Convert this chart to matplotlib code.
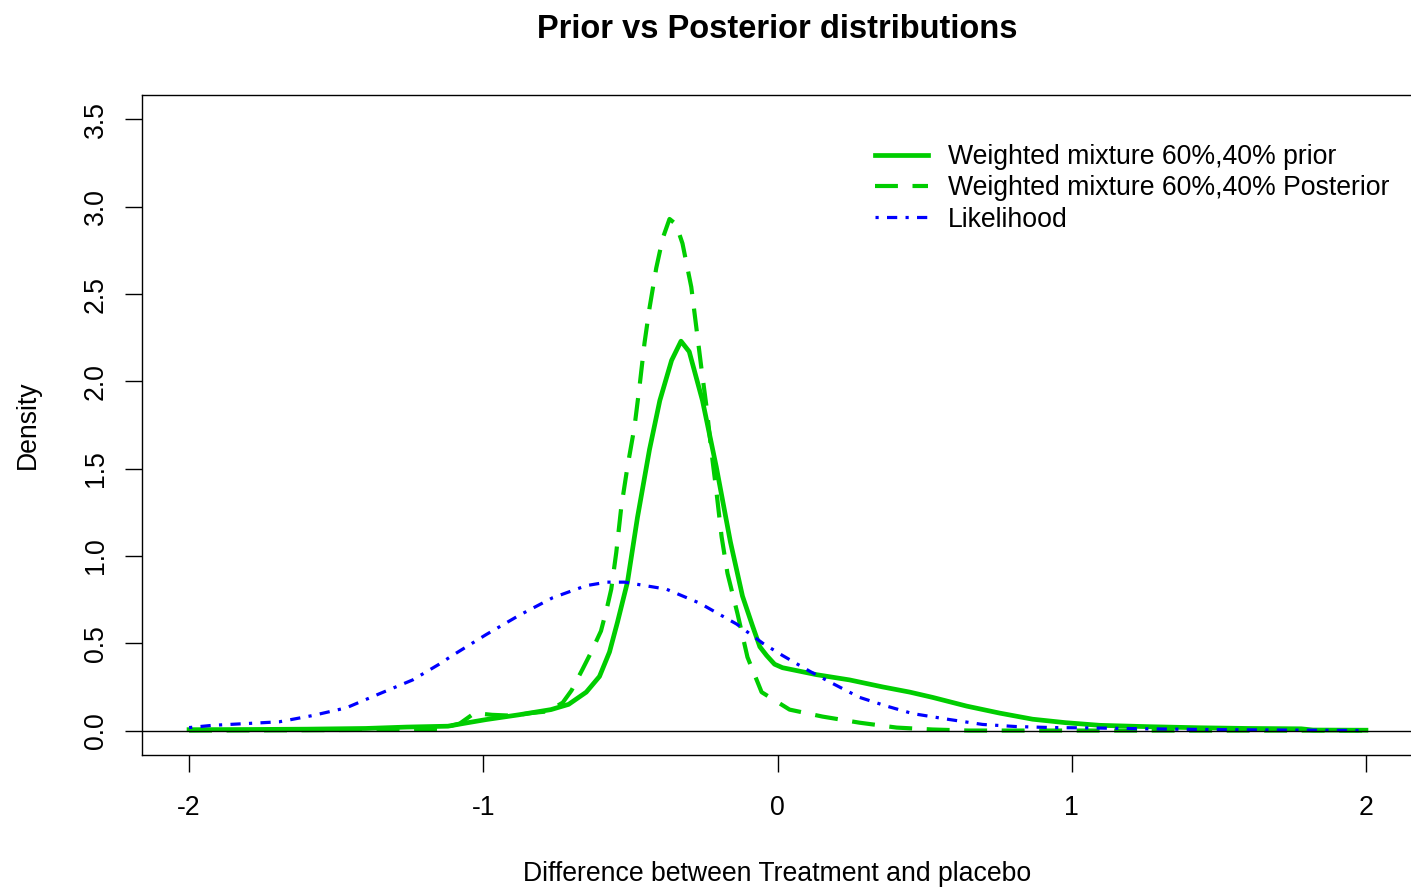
import matplotlib
matplotlib.use("Agg")
import matplotlib.pyplot as plt

plt.rcParams['font.family'] = ['Liberation Sans', 'DejaVu Sans']

# values
prior_x = [-2.00, -1.80, -1.60, -1.40, -1.26, -1.12, -1.07, -0.99, -0.88, -0.77,
           -0.71, -0.65, -0.605, -0.571, -0.544, -0.51, -0.476, -0.435, -0.40, -0.36,
           -0.328, -0.30, -0.255, -0.208, -0.16, -0.119, -0.085, -0.06, -0.037, -0.01,
           0.017, 0.133, 0.245, 0.357, 0.45, 0.527, 0.643, 0.755, 0.867, 0.98,
           1.095, 1.265, 1.435, 1.60, 1.78, 1.82, 2.00]
prior_y = [0.005, 0.006, 0.008, 0.012, 0.02, 0.025, 0.04, 0.063, 0.09, 0.12,
           0.15, 0.22, 0.31, 0.45, 0.62, 0.85, 1.22, 1.61, 1.89, 2.12,
           2.23, 2.17, 1.89, 1.51, 1.08, 0.77, 0.60, 0.48, 0.43, 0.38,
           0.36, 0.32, 0.29, 0.25, 0.22, 0.19, 0.14, 0.10, 0.065, 0.045,
           0.03, 0.022, 0.016, 0.012, 0.01, 0.003, 0.002]

post_x = [-2.00, -1.60, -1.30, -1.15, -1.08, -1.03, -0.97, -0.90, -0.84, -0.78,
          -0.73, -0.70, -0.663, -0.633, -0.60, -0.58, -0.565, -0.548, -0.531, -0.51,
          -0.486, -0.469, -0.452, -0.435, -0.412, -0.39, -0.367, -0.345, -0.323, -0.293,
          -0.276, -0.259, -0.241, -0.224, -0.207, -0.19, -0.17, -0.136, -0.102, -0.054,
          0.041, 0.153, 0.279, 0.405, 0.527, 0.65, 2.00]
post_y = [0.0, 0.002, 0.005, 0.01, 0.04, 0.10, 0.09, 0.085, 0.10, 0.11,
          0.16, 0.23, 0.35, 0.45, 0.57, 0.70, 0.81, 1.02, 1.28, 1.51,
          1.74, 1.97, 2.22, 2.42, 2.65, 2.82, 2.93, 2.90, 2.79, 2.54,
          2.31, 2.08, 1.85, 1.59, 1.36, 1.11, 0.90, 0.67, 0.42, 0.22,
          0.12, 0.08, 0.045, 0.017, 0.006, 0.0, 0.0]

lik_x = [-2.00, -1.92, -1.806, -1.694, -1.58, -1.466, -1.354, -1.24, -1.15, -1.105,
         -0.99, -0.878, -0.765, -0.65, -0.58, -0.52, -0.45, -0.378, -0.265, -0.139,
         -0.05, 0.017, 0.109, 0.187, 0.279, 0.371, 0.46, 0.585, 0.697, 0.81,
         0.935, 1.07, 1.25, 1.50, 2.00]
lik_y = [0.017, 0.03, 0.04, 0.05, 0.086, 0.13, 0.21, 0.29, 0.38, 0.43,
         0.55, 0.66, 0.76, 0.83, 0.85, 0.85, 0.83, 0.81, 0.73, 0.61,
         0.50, 0.43, 0.34, 0.27, 0.19, 0.14, 0.097, 0.063, 0.035, 0.023,
         0.017, 0.015, 0.01, 0.005, 0.0]

labels = ["Weighted mixture 60%,40% prior",
          "Weighted mixture 60%,40% Posterior",
          "Likelihood"]
x_ticks = [-2, -1, 0, 1, 2]
y_ticks = [0.0, 0.5, 1.0, 1.5, 2.0, 2.5, 3.0, 3.5]

green = "#00CD00"
blue = "#0000FF"
fs = 19.2

fig = plt.figure(figsize=(14.11, 8.89), dpi=100)
ax = fig.add_axes([142 / 1411, 134 / 889, 1271 / 1411, 660 / 889])

ax.plot(prior_x, prior_y, color=green, lw=3.4, label=labels[0])
ax.plot(post_x, post_y, color=green, lw=3.0, linestyle=(0, (5.5, 3.5)), label=labels[1])
ax.plot(lik_x, lik_y, color=blue, lw=2.3, linestyle=(0, (1.0, 2.6, 3.2, 2.6)), label=labels[2])
ax.axhline(0, color="black", lw=1.0)

ax.set_xlim(-2.16, 2.16)
ax.set_ylim(-0.14, 3.64)
ax.set_xticks(x_ticks)
ax.set_xticklabels([str(t) for t in x_ticks])
ax.set_yticks(y_ticks)
ax.set_yticklabels([f"{t:.1f}" for t in y_ticks], rotation=90, va="center")
ax.tick_params(axis="both", length=12, width=1, labelsize=fs, color="black")
ax.tick_params(axis="x", pad=17)
ax.tick_params(axis="y", pad=12)
for s in ax.spines.values():
    s.set_linewidth(1.0)
    s.set_color("black")

ax.legend(loc="upper left", bbox_to_anchor=((875 - 142) / 1271, (755 - 144) / 660),
          frameon=False, fontsize=fs, handlelength=2.0, handletextpad=0.75,
          labelspacing=0.2, borderpad=0, borderaxespad=0)

fig.text(777 / 1411, 1 - 30 / 889, "Prior vs Posterior distributions",
         ha="center", va="center", fontsize=23.5, fontweight="bold")
fig.text(777 / 1411, 1 - 874 / 889, "Difference between Treatment and placebo",
         ha="center", va="center", fontsize=fs)
fig.text(28 / 1411, 1 - 425 / 889, "Density", rotation=90,
         ha="center", va="center", fontsize=fs)

fig.savefig("out.png", dpi=100)
